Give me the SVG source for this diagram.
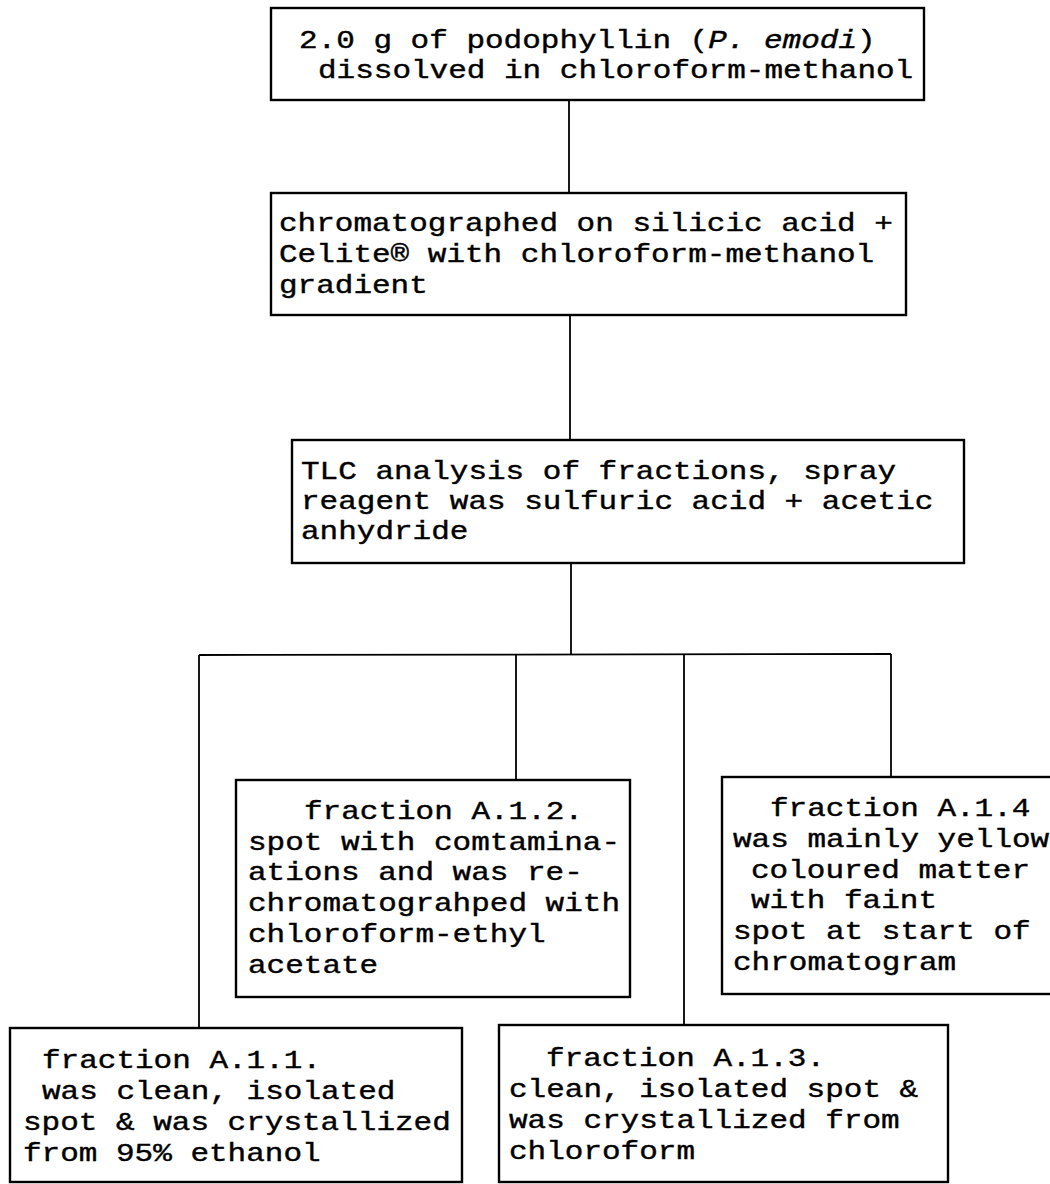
<svg xmlns="http://www.w3.org/2000/svg" width="1050" height="1184" viewBox="0 0 1050 1184">
<style>
.box{fill:#fff;stroke:#000;stroke-width:2.4}
.t{font-family:"Liberation Mono","Courier New",monospace;font-size:26px;fill:#000;stroke:#000;stroke-width:0.4}
.c{fill:none;stroke:#000;stroke-width:1.8}
</style>
<rect width="1050" height="1184" fill="#fff"/>
<g id="connectors">
<line class="c" x1="569" y1="100" x2="569" y2="193"/>
<line class="c" x1="570" y1="315" x2="570" y2="440"/>
<line class="c" x1="571" y1="563" x2="571" y2="655"/>
<line class="c" x1="199" y1="655" x2="891" y2="654"/>
<line class="c" x1="199" y1="655" x2="199" y2="1028"/>
<line class="c" x1="516" y1="655" x2="516" y2="780"/>
<line class="c" x1="684" y1="654" x2="684" y2="1025"/>
<line class="c" x1="891" y1="654" x2="891" y2="777"/>
</g>
<g id="start">
<rect class="box" x="271" y="8" width="653" height="92"/>
<text class="t" x="299" y="48" textLength="576.6" lengthAdjust="spacingAndGlyphs">2.0 g of podophyllin (<tspan font-style="italic">P. emodi</tspan>)</text>
<text class="t" x="318" y="78" textLength="595.2" lengthAdjust="spacingAndGlyphs">dissolved in chloroform-methanol</text>
</g>
<g id="chromatography">
<rect class="box" x="271" y="193" width="635" height="122"/>
<text class="t" x="279" y="231" textLength="613.8" lengthAdjust="spacingAndGlyphs">chromatographed on silicic acid +</text>
<text class="t" x="279" y="262" textLength="595.2" lengthAdjust="spacingAndGlyphs">Celite® with chloroform-methanol</text>
<text class="t" x="279" y="293" textLength="148.8" lengthAdjust="spacingAndGlyphs">gradient</text>
</g>
<g id="tlc">
<rect class="box" x="292" y="440" width="672" height="123"/>
<text class="t" x="301" y="479" textLength="595.2" lengthAdjust="spacingAndGlyphs">TLC analysis of fractions, spray</text>
<text class="t" x="301" y="509" textLength="632.4" lengthAdjust="spacingAndGlyphs">reagent was sulfuric acid + acetic</text>
<text class="t" x="301" y="539" textLength="167.4" lengthAdjust="spacingAndGlyphs">anhydride</text>
</g>
<g id="fractionA12">
<rect class="box" x="236" y="780" width="394" height="217"/>
<text class="t" x="304" y="819" textLength="279" lengthAdjust="spacingAndGlyphs">fraction A.1.2.</text>
<text class="t" x="248" y="850" textLength="372" lengthAdjust="spacingAndGlyphs">spot with comtamina-</text>
<text class="t" x="248" y="880" textLength="334.8" lengthAdjust="spacingAndGlyphs">ations and was re-</text>
<text class="t" x="248" y="911" textLength="372" lengthAdjust="spacingAndGlyphs">chromatograhped with</text>
<text class="t" x="248" y="942" textLength="297.6" lengthAdjust="spacingAndGlyphs">chloroform-ethyl</text>
<text class="t" x="248" y="973" textLength="130.2" lengthAdjust="spacingAndGlyphs">acetate</text>
</g>
<g id="fractionA14">
<rect class="box" x="722" y="777" width="345" height="217"/>
<text class="t" x="770" y="816" textLength="260.4" lengthAdjust="spacingAndGlyphs">fraction A.1.4</text>
<text class="t" x="733" y="847" textLength="316.2" lengthAdjust="spacingAndGlyphs">was mainly yellow</text>
<text class="t" x="751" y="878" textLength="279" lengthAdjust="spacingAndGlyphs">coloured matter</text>
<text class="t" x="751" y="908" textLength="186" lengthAdjust="spacingAndGlyphs">with faint</text>
<text class="t" x="733" y="939" textLength="297.6" lengthAdjust="spacingAndGlyphs">spot at start of</text>
<text class="t" x="733" y="970" textLength="223.2" lengthAdjust="spacingAndGlyphs">chromatogram</text>
</g>
<g id="fractionA11">
<rect class="box" x="10" y="1028" width="452" height="154"/>
<text class="t" x="42" y="1068" textLength="279" lengthAdjust="spacingAndGlyphs">fraction A.1.1.</text>
<text class="t" x="42" y="1099" textLength="353.4" lengthAdjust="spacingAndGlyphs">was clean, isolated</text>
<text class="t" x="23" y="1130" textLength="427.8" lengthAdjust="spacingAndGlyphs">spot &amp; was crystallized</text>
<text class="t" x="23" y="1161" textLength="297.6" lengthAdjust="spacingAndGlyphs">from 95% ethanol</text>
</g>
<g id="fractionA13">
<rect class="box" x="499" y="1025" width="449" height="157"/>
<text class="t" x="546" y="1066" textLength="279" lengthAdjust="spacingAndGlyphs">fraction A.1.3.</text>
<text class="t" x="509" y="1097" textLength="409.2" lengthAdjust="spacingAndGlyphs">clean, isolated spot &amp;</text>
<text class="t" x="509" y="1128" textLength="390.6" lengthAdjust="spacingAndGlyphs">was crystallized from</text>
<text class="t" x="509" y="1159" textLength="186" lengthAdjust="spacingAndGlyphs">chloroform</text>
</g>
</svg>
